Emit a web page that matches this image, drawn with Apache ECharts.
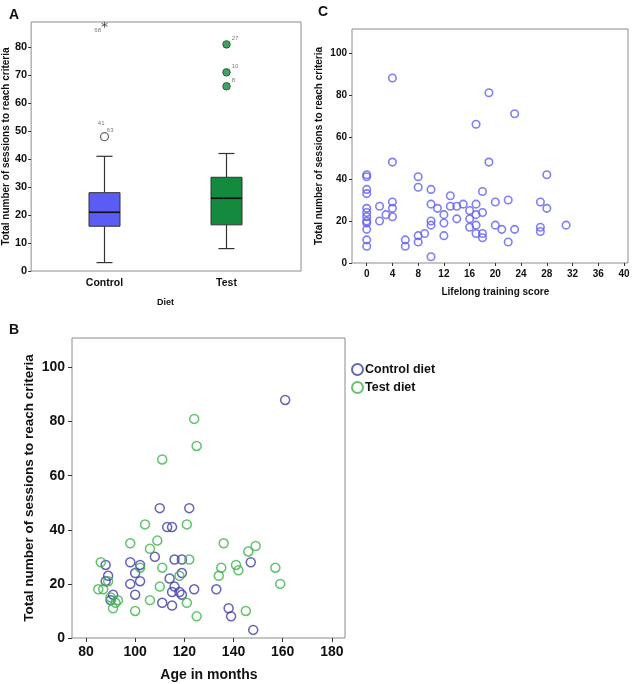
<!DOCTYPE html>
<html>
<head>
<meta charset="utf-8">
<script src="https://cdn.jsdelivr.net/npm/echarts@6/dist/echarts.min.js"></script>
<style>
html, body { margin: 0; padding: 0; background: #fff; }
#main { width: 641px; height: 684px; }
</style>
</head>
<body>
<div id="main"></div>
<script>
// panel A: box plot by diet
var dietCats = ['Control', 'Test'];
var boxControl = [3, 16, 21, 28, 41];      // low, q1, median, q3, high
var boxTest = [8, 16.5, 26, 33.5, 42];
var ctrlOutlier = [48];
var ctrlOutlierIds = ['41', '63'];
var ctrlExtreme = [88];
var ctrlExtremeIds = ['68'];
var testOutliers = [66, 71, 81];
var testOutlierIds = ['8', '10', '27'];

// panel C: lifelong training score vs sessions
var trainScore = [4, 19, 23, 17, 4, 19, 0, 0, 8, 28, 0, 0, 8, 10, 18, 13, 4, 4, 4, 2, 2, 3,
    0, 0, 0, 0, 0, 0, 0, 0, 6, 6, 8, 8, 9, 10, 10, 10, 10, 11, 12, 12, 12, 13, 14, 14, 15,
    16, 16, 16, 17, 17, 17, 17, 18, 18, 18, 20, 20, 21, 22, 22, 23, 27, 27, 27, 28, 31];
var trainSessions = [88, 81, 71, 66, 48, 48, 42, 41, 41, 42, 35, 33, 36, 35, 34, 32, 29, 26, 22, 27, 20, 23,
    26, 24, 22, 20, 19, 16, 11, 8, 11, 8, 13, 10, 14, 3, 28, 20, 18, 26, 23, 19, 13, 27, 27, 21, 28,
    25, 21, 17, 28, 23, 18, 14, 24, 14, 12, 29, 18, 16, 30, 10, 16, 29, 17, 15, 26, 18];

// panel B: age vs sessions, per diet
var ctrlAge = [161, 110, 122, 113, 115, 108, 116, 119, 98, 147, 88, 102, 89, 100, 88, 102, 98,
    114, 119, 116, 115, 118, 119, 124, 133, 100, 91, 111, 115, 138, 139, 148, 90];
var ctrlSessions = [88, 48, 48, 41, 41, 30, 29, 29, 28, 28, 27, 27, 23, 24, 21, 21, 20,
    22, 24, 19, 17, 17, 16, 18, 18, 16, 16, 13, 12, 11, 8, 3, 14];
var testAge = [124, 125, 111, 104, 121, 98, 109, 106, 136, 146, 149, 86, 122, 102, 111, 135, 141, 142,
    157, 118, 134, 89, 159, 85, 87, 110, 90, 92, 93, 91, 106, 121, 100, 145, 125];
var testSessions = [81, 71, 66, 42, 42, 35, 36, 33, 35, 32, 34, 28, 29, 26, 26, 26, 27, 25,
    26, 23, 23, 21, 20, 18, 18, 19, 15, 13, 14, 11, 14, 13, 10, 10, 8];

var ageTicks = { min: 80, max: 180, interval: 20 };
var scoreTicks = { min: 0, max: 40, interval: 4 };

var font = 'Arial, "Liberation Sans", sans-serif';
var boxFill = ['#5b5bf5', '#138a3e'];

function pairs(xs, ys) {
    var out = [];
    for (var i = 0; i < xs.length; i++) out.push([xs[i], ys[i]]);
    return out;
}

function renderBox(params, api) {
    var cat = api.value(0);
    var low = api.coord([cat, api.value(1)]);
    var q1 = api.coord([cat, api.value(2)]);
    var med = api.coord([cat, api.value(3)]);
    var q3 = api.coord([cat, api.value(4)]);
    var high = api.coord([cat, api.value(5)]);
    var x = low[0];
    var half = 15.5, cap = 8;
    var ln = { stroke: '#333', lineWidth: 1.2 };
    return {
        type: 'group',
        children: [
            { type: 'line', shape: { x1: x, y1: low[1], x2: x, y2: q1[1] }, style: ln },
            { type: 'line', shape: { x1: x, y1: q3[1], x2: x, y2: high[1] }, style: ln },
            { type: 'line', shape: { x1: x - cap, y1: low[1], x2: x + cap, y2: low[1] }, style: ln },
            { type: 'line', shape: { x1: x - cap, y1: high[1], x2: x + cap, y2: high[1] }, style: ln },
            { type: 'rect', shape: { x: x - half, y: q3[1], width: half * 2, height: q1[1] - q3[1] },
              style: { fill: boxFill[params.dataIndex], stroke: '#333', lineWidth: 1 } },
            { type: 'line', shape: { x1: x - half, y1: med[1], x2: x + half, y2: med[1] },
              style: { stroke: '#111', lineWidth: 1.6 } }
        ]
    };
}

var myChart = echarts.init(document.getElementById('main'));

var tickLabel = function (size) {
    return { fontFamily: font, fontWeight: 'bold', fontSize: size, color: '#111' };
};
var frameGrid = { show: true, borderColor: '#8c8c8c', borderWidth: 1, backgroundColor: 'transparent' };

var option = {
    animation: false,
    title: [
        { text: 'A', left: 4, top: 3, textStyle: { fontFamily: font, fontSize: 14, fontWeight: 'bold', color: '#111' } },
        { text: 'C', left: 313, top: 0, textStyle: { fontFamily: font, fontSize: 14, fontWeight: 'bold', color: '#111' } },
        { text: 'B', left: 4, top: 318, textStyle: { fontFamily: font, fontSize: 14, fontWeight: 'bold', color: '#111' } }
    ],
    legend: {
        data: ['Control diet', 'Test diet'],
        orient: 'vertical',
        left: 346, top: 358,
        itemWidth: 11, itemHeight: 11, itemGap: 5,
        textStyle: { fontFamily: font, fontWeight: 'bold', fontSize: 12.5, color: '#111', padding: [0, 0, 0, -3] }
    },
    grid: [
        echarts.util.extend({ left: 30, top: 22, width: 271, height: 249 }, frameGrid),
        { left: 43.5, top: 22, width: 244, height: 249 },
        echarts.util.extend({ left: 352, top: 29, width: 276, height: 234 }, frameGrid),
        { left: 366.7, top: 29, width: 257.3, height: 234 },
        echarts.util.extend({ left: 72, top: 338, width: 273, height: 300 }, frameGrid),
        { left: 86, top: 338, width: 245.9, height: 300 }
    ],
    xAxis: [
        { gridIndex: 0, type: 'value', min: 0, max: 1, show: false },
        {
            gridIndex: 1, type: 'category', data: dietCats,
            name: 'Diet', nameLocation: 'middle', nameGap: 27,
            nameTextStyle: { fontFamily: font, fontWeight: 'bold', fontSize: 9, color: '#111' },
            axisLine: { show: false },
            axisTick: { alignWithLabel: true, length: 3, lineStyle: { color: '#333' } },
            axisLabel: echarts.util.extend({ margin: 7 }, tickLabel(10.5))
        },
        { gridIndex: 2, type: 'value', min: 0, max: 1, show: false },
        {
            gridIndex: 3, type: 'value', min: scoreTicks.min, max: scoreTicks.max, interval: scoreTicks.interval,
            name: 'Lifelong training score', nameLocation: 'middle', nameGap: 24,
            nameTextStyle: { fontFamily: font, fontWeight: 'bold', fontSize: 10, color: '#111' },
            axisLine: { show: false },
            axisTick: { length: 3, lineStyle: { color: '#333' } },
            splitLine: { show: false },
            axisLabel: echarts.util.extend({ margin: 6 }, tickLabel(10))
        },
        { gridIndex: 4, type: 'value', min: 0, max: 1, show: false },
        {
            gridIndex: 5, type: 'value', min: ageTicks.min, max: ageTicks.max, interval: ageTicks.interval,
            name: 'Age in months', nameLocation: 'middle', nameGap: 30,
            nameTextStyle: { fontFamily: font, fontWeight: 'bold', fontSize: 14, color: '#111' },
            axisLine: { show: false },
            axisTick: { length: 4, lineStyle: { color: '#333' } },
            splitLine: { show: false },
            axisLabel: echarts.util.extend({ margin: 7 }, tickLabel(14))
        }
    ],
    yAxis: [
        {
            gridIndex: 0, type: 'value', min: 0, max: 89, interval: 10,
            name: 'Total number of sessions to reach criteria', nameLocation: 'middle', nameGap: 19,
            nameTextStyle: { fontFamily: font, fontWeight: 'bold', fontSize: 10, color: '#111' },
            axisLine: { show: false },
            axisTick: { show: true, length: 3, lineStyle: { color: '#333' } },
            splitLine: { show: false },
            axisLabel: echarts.util.extend({ margin: 4, showMaxLabel: false }, tickLabel(11))
        },
        { gridIndex: 1, type: 'value', min: 0, max: 89, show: false },
        {
            gridIndex: 2, type: 'value', min: 0, max: 111.3, interval: 20,
            name: 'Total number of sessions to reach criteria', nameLocation: 'middle', nameGap: 28,
            nameTextStyle: { fontFamily: font, fontWeight: 'bold', fontSize: 10, color: '#111' },
            axisLine: { show: false },
            axisTick: { show: true, length: 3, lineStyle: { color: '#333' } },
            splitLine: { show: false },
            axisLabel: echarts.util.extend({ margin: 5, showMaxLabel: false }, tickLabel(10))
        },
        { gridIndex: 3, type: 'value', min: 0, max: 111.3, show: false },
        {
            gridIndex: 4, type: 'value', min: 0, max: 110.9, interval: 20,
            name: 'Total number of sessions to reach criteria', nameLocation: 'middle', nameGap: 36,
            nameTextStyle: { fontFamily: font, fontWeight: 'bold', fontSize: 13.5, color: '#111' },
            axisLine: { show: false },
            axisTick: { show: true, length: 4, lineStyle: { color: '#333' } },
            splitLine: { show: false },
            axisLabel: echarts.util.extend({ margin: 7, showMaxLabel: false }, tickLabel(14))
        },
        { gridIndex: 5, type: 'value', min: 0, max: 110.9, show: false }
    ],
    series: [
        {
            type: 'custom', xAxisIndex: 1, yAxisIndex: 1,
            renderItem: renderBox,
            encode: { x: 0, y: [1, 2, 3, 4, 5] },
            data: [[0].concat(boxControl), [1].concat(boxTest)]
        },
        {
            type: 'scatter', xAxisIndex: 1, yAxisIndex: 1, clip: false,
            symbol: 'circle', symbolSize: 8,
            itemStyle: { color: '#fff', borderColor: '#444', borderWidth: 1.3 },
            label: {
                show: true, position: [-2, -12],
                formatter: '{a|' + ctrlOutlierIds[0] + '}\n{b|' + ctrlOutlierIds[1] + '}',
                rich: {
                    a: { fontFamily: font, fontSize: 6, color: '#555', lineHeight: 7 },
                    b: { fontFamily: font, fontSize: 6, color: '#555', lineHeight: 7, padding: [0, 0, 0, 9] }
                }
            },
            data: ctrlOutlier.map(function (v) { return [0, v]; })
        },
        {
            type: 'scatter', xAxisIndex: 1, yAxisIndex: 1, clip: false,
            symbol: 'path://M5,0L5,10M0,2.5L10,7.5M0,7.5L10,2.5', symbolSize: 6,
            itemStyle: { color: 'none', borderColor: '#444', borderWidth: 1 },
            label: {
                show: true, position: 'left', distance: 0, offset: [2, 6],
                fontFamily: font, fontSize: 6, color: '#555',
                formatter: function (p) { return ctrlExtremeIds[p.dataIndex]; }
            },
            data: ctrlExtreme.map(function (v) { return [0, v]; })
        },
        {
            type: 'scatter', xAxisIndex: 1, yAxisIndex: 1, clip: false,
            symbol: 'circle', symbolSize: 7.5,
            itemStyle: { color: '#138a3e', borderColor: '#0a4d22', borderWidth: 1 },
            label: {
                show: true, position: 'right', distance: 1, offset: [0, -6],
                fontFamily: font, fontSize: 6, color: '#555',
                formatter: function (p) { return testOutlierIds[p.dataIndex]; }
            },
            data: testOutliers.map(function (v) { return [1, v]; })
        },
        {
            type: 'scatter', xAxisIndex: 3, yAxisIndex: 3, clip: false,
            symbol: 'circle', symbolSize: 7.5,
            itemStyle: { color: 'rgba(0,0,0,0)', borderColor: '#5f5ff0', borderWidth: 1.6 },
            data: pairs(trainScore, trainSessions)
        },
        {
            name: 'Control diet',
            type: 'scatter', xAxisIndex: 5, yAxisIndex: 5, clip: false,
            symbol: 'circle', symbolSize: 9,
            itemStyle: { color: 'rgba(0,0,0,0)', borderColor: '#3e3ea6', borderWidth: 1.5 },
            data: pairs(ctrlAge, ctrlSessions)
        },
        {
            name: 'Test diet',
            type: 'scatter', xAxisIndex: 5, yAxisIndex: 5, clip: false,
            symbol: 'circle', symbolSize: 9,
            itemStyle: { color: 'rgba(0,0,0,0)', borderColor: '#3cb44b', borderWidth: 1.5 },
            data: pairs(testAge, testSessions)
        }
    ]
};

myChart.setOption(option);
</script>
</body>
</html>
